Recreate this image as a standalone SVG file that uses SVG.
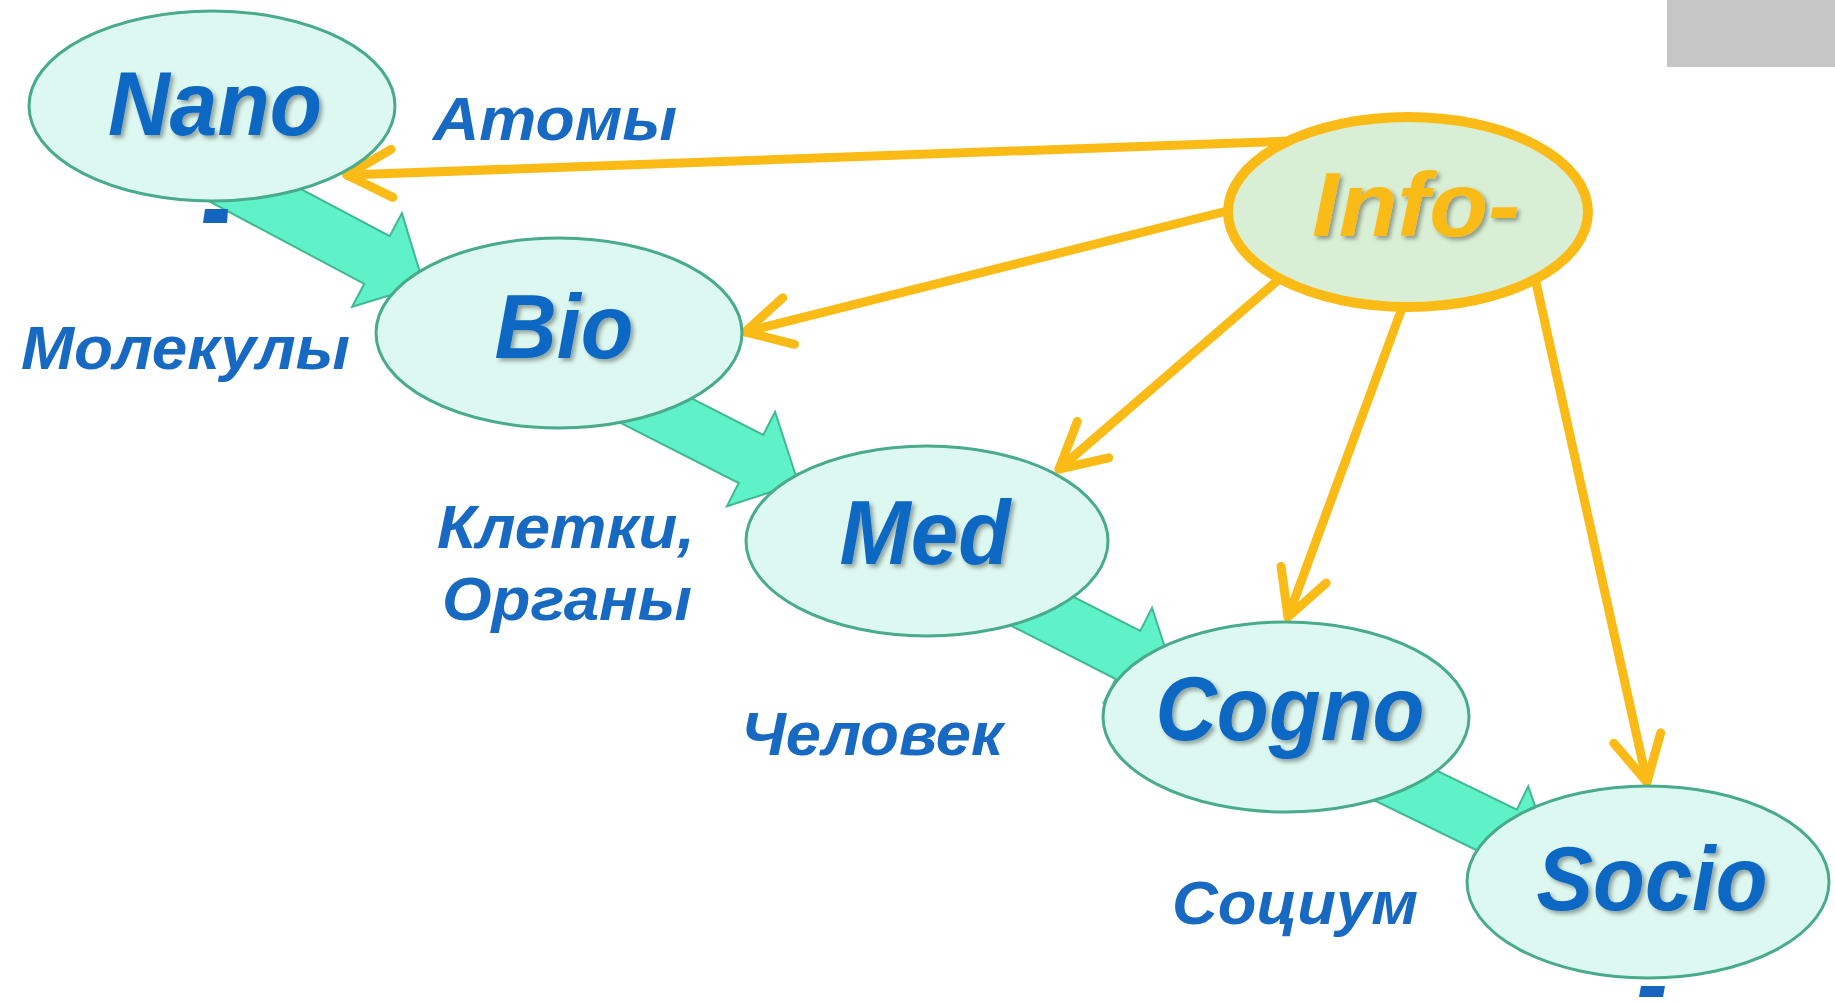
<svg xmlns="http://www.w3.org/2000/svg" width="1835" height="1002" viewBox="0 0 1835 1002">
<defs>
<style>
.node{fill:#ddf8f0;stroke:#48ab8b;stroke-width:3}
.info{fill:#d9efd5;stroke:#fbbb17;stroke-width:10}
.nt{font-family:"Liberation Sans",Arial,sans-serif;font-weight:bold;font-style:italic;font-size:90px;fill:#0f67c3;text-anchor:middle}
.it{fill:#fbbb17}
.lb{font-family:"Liberation Sans",Arial,sans-serif;font-weight:bold;font-style:italic;font-size:62px;fill:#1769c2}
.flow{fill:#5ff1c8;stroke:#40b893;stroke-width:2;stroke-linejoin:miter}
.yl{fill:none;stroke:#fbbb17;stroke-width:9;stroke-linecap:round}
</style>
<filter id="sh" x="-10%" y="-20%" width="130%" height="150%">
<feDropShadow dx="3" dy="3" stdDeviation="2" flood-color="#000" flood-opacity="0.35"/>
</filter>
<marker id="chev" markerUnits="userSpaceOnUse" viewBox="-60 -40 80 80" markerWidth="80" markerHeight="80" refX="0" refY="0" orient="auto" overflow="visible">
<path d="M-45,-24 L0,0 L-45,24" fill="none" stroke="#fbbb17" stroke-width="9" stroke-linecap="round" stroke-linejoin="round"/>
</marker>
<polygon id="blk" points="-190,-27 0,-27 0,-53 53,0 0,53 0,27 -190,27"/>
</defs>
<rect width="1835" height="1002" fill="#ffffff"/>
<rect x="1667" y="0" width="168" height="67" fill="#c6c6c6"/>
<g id="connectors">
<use href="#blk" class="flow" transform="translate(377 260) rotate(28)"/>
<use href="#blk" class="flow" transform="translate(751 459) rotate(27)"/>
<use href="#blk" class="flow" transform="translate(1128 655) rotate(27)"/>
<use href="#blk" class="flow" transform="translate(1505 834) rotate(26)"/>
<line class="yl" x1="1290" y1="141" x2="347" y2="175" marker-end="url(#chev)"/>
<line class="yl" x1="1235" y1="209" x2="745" y2="332" marker-end="url(#chev)"/>
<line class="yl" x1="1285" y1="274" x2="1059" y2="469" marker-end="url(#chev)"/>
<line class="yl" x1="1405" y1="300" x2="1288" y2="617" marker-end="url(#chev)"/>
<line class="yl" x1="1535" y1="278" x2="1647" y2="782" marker-end="url(#chev)"/>
</g>
<g id="nano">
<ellipse class="node" cx="212" cy="106" rx="183" ry="95"/>
<text class="nt" x="215" y="135" textLength="214" lengthAdjust="spacingAndGlyphs" filter="url(#sh)">Nano</text>
</g>
<g id="bio">
<ellipse class="node" cx="559" cy="333" rx="183" ry="95"/>
<text class="nt" x="564" y="358" textLength="139" lengthAdjust="spacingAndGlyphs" filter="url(#sh)">Bio</text>
</g>
<g id="med">
<ellipse class="node" cx="927" cy="541" rx="181" ry="95"/>
<text class="nt" x="925" y="564" textLength="171" lengthAdjust="spacingAndGlyphs" filter="url(#sh)">Med</text>
</g>
<g id="cogno">
<ellipse class="node" cx="1286" cy="717" rx="183" ry="95"/>
<text class="nt" x="1290" y="740" textLength="269" lengthAdjust="spacingAndGlyphs" filter="url(#sh)">Cogno</text>
</g>
<g id="socio">
<ellipse class="node" cx="1648" cy="882" rx="181" ry="96"/>
<text class="nt" x="1652" y="910" textLength="231" lengthAdjust="spacingAndGlyphs" filter="url(#sh)">Socio</text>
</g>
<g id="info">
<ellipse class="info" cx="1408" cy="212" rx="180" ry="95"/>
<text class="nt it" x="1416" y="236" textLength="208" lengthAdjust="spacingAndGlyphs" filter="url(#sh)">Info-</text>
</g>
<g id="labels">
<text class="lb" x="433" y="140" textLength="244" lengthAdjust="spacingAndGlyphs">Атомы</text>
<text class="lb" x="21" y="369" textLength="329" lengthAdjust="spacingAndGlyphs">Молекулы</text>
<text class="lb" x="437" y="548" textLength="258" lengthAdjust="spacingAndGlyphs">Клетки,</text>
<text class="lb" x="442" y="620" textLength="250" lengthAdjust="spacingAndGlyphs">Органы</text>
<text class="lb" x="741" y="755" textLength="262" lengthAdjust="spacingAndGlyphs">Человек</text>
<text class="lb" x="1172" y="924" textLength="246" lengthAdjust="spacingAndGlyphs">Социум</text>
</g>
<g id="marks" fill="#1565c0">
<polygon points="205,209 228,209 227,223 203,223"/>
<polygon points="1641,986 1665,986 1663,997 1639,997"/>
</g>
</svg>
